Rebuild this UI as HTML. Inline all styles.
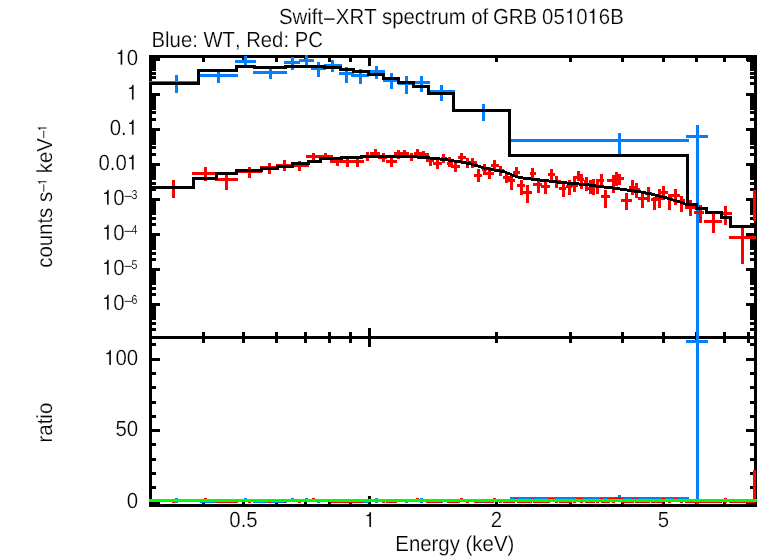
<!DOCTYPE html>
<html><head><meta charset="utf-8"><title>Swift-XRT spectrum of GRB 051016B</title>
<style>html,body{margin:0;padding:0;background:#fff;}body{width:758px;height:556px;overflow:hidden;font-family:"Liberation Sans",sans-serif;}svg{display:block;}text{font-family:"Liberation Sans",sans-serif;fill:#000;white-space:pre;}</style></head><body>
<svg width="758" height="556" viewBox="0 0 758 556" shape-rendering="crispEdges">
<rect width="758" height="556" fill="#fff"/>
<g id="frame">
<rect x="149" y="55" width="608" height="3" fill="#000"/>
<rect x="149" y="336" width="608" height="3" fill="#000"/>
<rect x="149" y="504" width="608" height="3" fill="#000"/>
<rect x="149" y="55" width="3" height="452" fill="#000"/>
<rect x="754" y="55" width="3" height="452" fill="#000"/>
<rect x="368" y="58" width="3" height="8" fill="#000"/>
<rect x="368" y="328" width="3" height="19" fill="#000"/>
<rect x="368" y="496" width="3" height="8" fill="#000"/>
<rect x="202" y="58" width="3" height="4" fill="#000"/>
<rect x="202" y="332" width="3" height="11" fill="#000"/>
<rect x="202" y="500" width="3" height="4" fill="#000"/>
<rect x="242" y="58" width="3" height="4" fill="#000"/>
<rect x="242" y="332" width="3" height="11" fill="#000"/>
<rect x="242" y="500" width="3" height="4" fill="#000"/>
<rect x="275" y="58" width="3" height="4" fill="#000"/>
<rect x="275" y="332" width="3" height="11" fill="#000"/>
<rect x="275" y="500" width="3" height="4" fill="#000"/>
<rect x="304" y="58" width="3" height="4" fill="#000"/>
<rect x="304" y="332" width="3" height="11" fill="#000"/>
<rect x="304" y="500" width="3" height="4" fill="#000"/>
<rect x="328" y="58" width="3" height="4" fill="#000"/>
<rect x="328" y="332" width="3" height="11" fill="#000"/>
<rect x="328" y="500" width="3" height="4" fill="#000"/>
<rect x="349" y="58" width="3" height="4" fill="#000"/>
<rect x="349" y="332" width="3" height="11" fill="#000"/>
<rect x="349" y="500" width="3" height="4" fill="#000"/>
<rect x="495" y="58" width="3" height="4" fill="#000"/>
<rect x="495" y="332" width="3" height="11" fill="#000"/>
<rect x="495" y="500" width="3" height="4" fill="#000"/>
<rect x="569" y="58" width="3" height="4" fill="#000"/>
<rect x="569" y="332" width="3" height="11" fill="#000"/>
<rect x="569" y="500" width="3" height="4" fill="#000"/>
<rect x="621" y="58" width="3" height="4" fill="#000"/>
<rect x="621" y="332" width="3" height="11" fill="#000"/>
<rect x="621" y="500" width="3" height="4" fill="#000"/>
<rect x="662" y="58" width="3" height="4" fill="#000"/>
<rect x="662" y="332" width="3" height="11" fill="#000"/>
<rect x="662" y="500" width="3" height="4" fill="#000"/>
<rect x="695" y="58" width="3" height="4" fill="#000"/>
<rect x="695" y="332" width="3" height="11" fill="#000"/>
<rect x="695" y="500" width="3" height="4" fill="#000"/>
<rect x="723" y="58" width="3" height="4" fill="#000"/>
<rect x="723" y="332" width="3" height="11" fill="#000"/>
<rect x="723" y="500" width="3" height="4" fill="#000"/>
<rect x="747" y="58" width="3" height="4" fill="#000"/>
<rect x="747" y="332" width="3" height="11" fill="#000"/>
<rect x="747" y="500" width="3" height="4" fill="#000"/>
<rect x="152" y="328" width="4" height="3" fill="#000"/>
<rect x="750" y="328" width="4" height="3" fill="#000"/>
<rect x="152" y="322" width="4" height="3" fill="#000"/>
<rect x="750" y="322" width="4" height="3" fill="#000"/>
<rect x="152" y="317" width="4" height="3" fill="#000"/>
<rect x="750" y="317" width="4" height="3" fill="#000"/>
<rect x="152" y="314" width="4" height="3" fill="#000"/>
<rect x="750" y="314" width="4" height="3" fill="#000"/>
<rect x="152" y="311" width="4" height="3" fill="#000"/>
<rect x="750" y="311" width="4" height="3" fill="#000"/>
<rect x="152" y="309" width="4" height="3" fill="#000"/>
<rect x="750" y="309" width="4" height="3" fill="#000"/>
<rect x="152" y="307" width="4" height="3" fill="#000"/>
<rect x="750" y="307" width="4" height="3" fill="#000"/>
<rect x="152" y="305" width="4" height="3" fill="#000"/>
<rect x="750" y="305" width="4" height="3" fill="#000"/>
<rect x="152" y="303" width="8" height="3" fill="#000"/>
<rect x="746" y="303" width="8" height="3" fill="#000"/>
<rect x="152" y="293" width="4" height="3" fill="#000"/>
<rect x="750" y="293" width="4" height="3" fill="#000"/>
<rect x="152" y="287" width="4" height="3" fill="#000"/>
<rect x="750" y="287" width="4" height="3" fill="#000"/>
<rect x="152" y="282" width="4" height="3" fill="#000"/>
<rect x="750" y="282" width="4" height="3" fill="#000"/>
<rect x="152" y="279" width="4" height="3" fill="#000"/>
<rect x="750" y="279" width="4" height="3" fill="#000"/>
<rect x="152" y="276" width="4" height="3" fill="#000"/>
<rect x="750" y="276" width="4" height="3" fill="#000"/>
<rect x="152" y="274" width="4" height="3" fill="#000"/>
<rect x="750" y="274" width="4" height="3" fill="#000"/>
<rect x="152" y="272" width="4" height="3" fill="#000"/>
<rect x="750" y="272" width="4" height="3" fill="#000"/>
<rect x="152" y="270" width="4" height="3" fill="#000"/>
<rect x="750" y="270" width="4" height="3" fill="#000"/>
<rect x="152" y="268" width="8" height="3" fill="#000"/>
<rect x="746" y="268" width="8" height="3" fill="#000"/>
<rect x="152" y="258" width="4" height="3" fill="#000"/>
<rect x="750" y="258" width="4" height="3" fill="#000"/>
<rect x="152" y="252" width="4" height="3" fill="#000"/>
<rect x="750" y="252" width="4" height="3" fill="#000"/>
<rect x="152" y="247" width="4" height="3" fill="#000"/>
<rect x="750" y="247" width="4" height="3" fill="#000"/>
<rect x="152" y="244" width="4" height="3" fill="#000"/>
<rect x="750" y="244" width="4" height="3" fill="#000"/>
<rect x="152" y="241" width="4" height="3" fill="#000"/>
<rect x="750" y="241" width="4" height="3" fill="#000"/>
<rect x="152" y="239" width="4" height="3" fill="#000"/>
<rect x="750" y="239" width="4" height="3" fill="#000"/>
<rect x="152" y="237" width="4" height="3" fill="#000"/>
<rect x="750" y="237" width="4" height="3" fill="#000"/>
<rect x="152" y="235" width="4" height="3" fill="#000"/>
<rect x="750" y="235" width="4" height="3" fill="#000"/>
<rect x="152" y="233" width="8" height="3" fill="#000"/>
<rect x="746" y="233" width="8" height="3" fill="#000"/>
<rect x="152" y="223" width="4" height="3" fill="#000"/>
<rect x="750" y="223" width="4" height="3" fill="#000"/>
<rect x="152" y="217" width="4" height="3" fill="#000"/>
<rect x="750" y="217" width="4" height="3" fill="#000"/>
<rect x="152" y="212" width="4" height="3" fill="#000"/>
<rect x="750" y="212" width="4" height="3" fill="#000"/>
<rect x="152" y="209" width="4" height="3" fill="#000"/>
<rect x="750" y="209" width="4" height="3" fill="#000"/>
<rect x="152" y="206" width="4" height="3" fill="#000"/>
<rect x="750" y="206" width="4" height="3" fill="#000"/>
<rect x="152" y="204" width="4" height="3" fill="#000"/>
<rect x="750" y="204" width="4" height="3" fill="#000"/>
<rect x="152" y="202" width="4" height="3" fill="#000"/>
<rect x="750" y="202" width="4" height="3" fill="#000"/>
<rect x="152" y="200" width="4" height="3" fill="#000"/>
<rect x="750" y="200" width="4" height="3" fill="#000"/>
<rect x="152" y="198" width="8" height="3" fill="#000"/>
<rect x="746" y="198" width="8" height="3" fill="#000"/>
<rect x="152" y="188" width="4" height="3" fill="#000"/>
<rect x="750" y="188" width="4" height="3" fill="#000"/>
<rect x="152" y="182" width="4" height="3" fill="#000"/>
<rect x="750" y="182" width="4" height="3" fill="#000"/>
<rect x="152" y="177" width="4" height="3" fill="#000"/>
<rect x="750" y="177" width="4" height="3" fill="#000"/>
<rect x="152" y="174" width="4" height="3" fill="#000"/>
<rect x="750" y="174" width="4" height="3" fill="#000"/>
<rect x="152" y="171" width="4" height="3" fill="#000"/>
<rect x="750" y="171" width="4" height="3" fill="#000"/>
<rect x="152" y="169" width="4" height="3" fill="#000"/>
<rect x="750" y="169" width="4" height="3" fill="#000"/>
<rect x="152" y="167" width="4" height="3" fill="#000"/>
<rect x="750" y="167" width="4" height="3" fill="#000"/>
<rect x="152" y="165" width="4" height="3" fill="#000"/>
<rect x="750" y="165" width="4" height="3" fill="#000"/>
<rect x="152" y="163" width="8" height="3" fill="#000"/>
<rect x="746" y="163" width="8" height="3" fill="#000"/>
<rect x="152" y="153" width="4" height="3" fill="#000"/>
<rect x="750" y="153" width="4" height="3" fill="#000"/>
<rect x="152" y="146" width="4" height="3" fill="#000"/>
<rect x="750" y="146" width="4" height="3" fill="#000"/>
<rect x="152" y="142" width="4" height="3" fill="#000"/>
<rect x="750" y="142" width="4" height="3" fill="#000"/>
<rect x="152" y="139" width="4" height="3" fill="#000"/>
<rect x="750" y="139" width="4" height="3" fill="#000"/>
<rect x="152" y="136" width="4" height="3" fill="#000"/>
<rect x="750" y="136" width="4" height="3" fill="#000"/>
<rect x="152" y="134" width="4" height="3" fill="#000"/>
<rect x="750" y="134" width="4" height="3" fill="#000"/>
<rect x="152" y="131" width="4" height="3" fill="#000"/>
<rect x="750" y="131" width="4" height="3" fill="#000"/>
<rect x="152" y="130" width="4" height="3" fill="#000"/>
<rect x="750" y="130" width="4" height="3" fill="#000"/>
<rect x="152" y="128" width="8" height="3" fill="#000"/>
<rect x="746" y="128" width="8" height="3" fill="#000"/>
<rect x="152" y="118" width="4" height="3" fill="#000"/>
<rect x="750" y="118" width="4" height="3" fill="#000"/>
<rect x="152" y="111" width="4" height="3" fill="#000"/>
<rect x="750" y="111" width="4" height="3" fill="#000"/>
<rect x="152" y="107" width="4" height="3" fill="#000"/>
<rect x="750" y="107" width="4" height="3" fill="#000"/>
<rect x="152" y="104" width="4" height="3" fill="#000"/>
<rect x="750" y="104" width="4" height="3" fill="#000"/>
<rect x="152" y="101" width="4" height="3" fill="#000"/>
<rect x="750" y="101" width="4" height="3" fill="#000"/>
<rect x="152" y="98" width="4" height="3" fill="#000"/>
<rect x="750" y="98" width="4" height="3" fill="#000"/>
<rect x="152" y="96" width="4" height="3" fill="#000"/>
<rect x="750" y="96" width="4" height="3" fill="#000"/>
<rect x="152" y="95" width="4" height="3" fill="#000"/>
<rect x="750" y="95" width="4" height="3" fill="#000"/>
<rect x="152" y="93" width="8" height="3" fill="#000"/>
<rect x="746" y="93" width="8" height="3" fill="#000"/>
<rect x="152" y="82" width="4" height="3" fill="#000"/>
<rect x="750" y="82" width="4" height="3" fill="#000"/>
<rect x="152" y="76" width="4" height="3" fill="#000"/>
<rect x="750" y="76" width="4" height="3" fill="#000"/>
<rect x="152" y="72" width="4" height="3" fill="#000"/>
<rect x="750" y="72" width="4" height="3" fill="#000"/>
<rect x="152" y="68" width="4" height="3" fill="#000"/>
<rect x="750" y="68" width="4" height="3" fill="#000"/>
<rect x="152" y="66" width="4" height="3" fill="#000"/>
<rect x="750" y="66" width="4" height="3" fill="#000"/>
<rect x="152" y="63" width="4" height="3" fill="#000"/>
<rect x="750" y="63" width="4" height="3" fill="#000"/>
<rect x="152" y="61" width="4" height="3" fill="#000"/>
<rect x="750" y="61" width="4" height="3" fill="#000"/>
<rect x="152" y="60" width="4" height="3" fill="#000"/>
<rect x="750" y="60" width="4" height="3" fill="#000"/>
<rect x="152" y="58" width="8" height="3" fill="#000"/>
<rect x="746" y="58" width="8" height="3" fill="#000"/>
<rect x="152" y="501" width="8" height="3" fill="#000"/>
<rect x="746" y="501" width="8" height="3" fill="#000"/>
<rect x="152" y="486" width="4" height="3" fill="#000"/>
<rect x="750" y="486" width="4" height="3" fill="#000"/>
<rect x="152" y="472" width="4" height="3" fill="#000"/>
<rect x="750" y="472" width="4" height="3" fill="#000"/>
<rect x="152" y="458" width="4" height="3" fill="#000"/>
<rect x="750" y="458" width="4" height="3" fill="#000"/>
<rect x="152" y="443" width="4" height="3" fill="#000"/>
<rect x="750" y="443" width="4" height="3" fill="#000"/>
<rect x="152" y="429" width="8" height="3" fill="#000"/>
<rect x="746" y="429" width="8" height="3" fill="#000"/>
<rect x="152" y="415" width="4" height="3" fill="#000"/>
<rect x="750" y="415" width="4" height="3" fill="#000"/>
<rect x="152" y="401" width="4" height="3" fill="#000"/>
<rect x="750" y="401" width="4" height="3" fill="#000"/>
<rect x="152" y="386" width="4" height="3" fill="#000"/>
<rect x="750" y="386" width="4" height="3" fill="#000"/>
<rect x="152" y="372" width="4" height="3" fill="#000"/>
<rect x="750" y="372" width="4" height="3" fill="#000"/>
<rect x="152" y="358" width="8" height="3" fill="#000"/>
<rect x="746" y="358" width="8" height="3" fill="#000"/>
<rect x="152" y="343" width="4" height="3" fill="#000"/>
<rect x="750" y="343" width="4" height="3" fill="#000"/>
</g>
<g id="ratio-data">
<rect x="149" y="499" width="49" height="3" fill="#0080ff"/>
<rect x="175" y="498" width="3" height="5" fill="#0080ff"/>
<rect x="200" y="500" width="38" height="3" fill="#0080ff"/>
<rect x="217" y="500" width="3" height="3" fill="#0080ff"/>
<rect x="235" y="499" width="21" height="3" fill="#0080ff"/>
<rect x="244" y="498" width="3" height="4" fill="#0080ff"/>
<rect x="253" y="500" width="34" height="3" fill="#0080ff"/>
<rect x="269" y="499" width="3" height="4" fill="#0080ff"/>
<rect x="284" y="499" width="16" height="3" fill="#0080ff"/>
<rect x="291" y="498" width="3" height="4" fill="#0080ff"/>
<rect x="299" y="499" width="15" height="3" fill="#0080ff"/>
<rect x="305" y="498" width="3" height="4" fill="#0080ff"/>
<rect x="311" y="499" width="15" height="3" fill="#0080ff"/>
<rect x="317" y="499" width="3" height="4" fill="#0080ff"/>
<rect x="324" y="499" width="18" height="3" fill="#0080ff"/>
<rect x="331" y="499" width="3" height="4" fill="#0080ff"/>
<rect x="339" y="500" width="15" height="3" fill="#0080ff"/>
<rect x="345" y="499" width="3" height="4" fill="#0080ff"/>
<rect x="351" y="500" width="18" height="3" fill="#0080ff"/>
<rect x="359" y="499" width="3" height="4" fill="#0080ff"/>
<rect x="370" y="499" width="15" height="3" fill="#0080ff"/>
<rect x="375" y="498" width="3" height="5" fill="#0080ff"/>
<rect x="383" y="499" width="17" height="3" fill="#0080ff"/>
<rect x="390" y="499" width="3" height="4" fill="#0080ff"/>
<rect x="398" y="499" width="16" height="3" fill="#0080ff"/>
<rect x="405" y="499" width="3" height="4" fill="#0080ff"/>
<rect x="414" y="499" width="16" height="3" fill="#0080ff"/>
<rect x="420" y="498" width="3" height="5" fill="#0080ff"/>
<rect x="430" y="499" width="25" height="3" fill="#0080ff"/>
<rect x="440" y="499" width="3" height="4" fill="#0080ff"/>
<rect x="454" y="499" width="56" height="3" fill="#0080ff"/>
<rect x="482" y="499" width="3" height="4" fill="#0080ff"/>
<rect x="510" y="497" width="179" height="3" fill="#0080ff"/>
<rect x="618" y="495" width="3" height="7" fill="#0080ff"/>
</g>
<g id="wt-data">
<rect x="686" y="135" width="22" height="3" fill="#0080ff"/>
<rect x="696" y="125" width="3" height="379" fill="#0080ff"/>
<rect x="686" y="340" width="22" height="3" fill="#0080ff"/>
<rect x="149" y="81" width="49" height="3" fill="#0080ff"/>
<rect x="175" y="75" width="3" height="18" fill="#0080ff"/>
<rect x="200" y="74" width="38" height="3" fill="#0080ff"/>
<rect x="217" y="72" width="3" height="11" fill="#0080ff"/>
<rect x="235" y="60" width="21" height="3" fill="#0080ff"/>
<rect x="244" y="56" width="3" height="9" fill="#0080ff"/>
<rect x="253" y="71" width="34" height="3" fill="#0080ff"/>
<rect x="269" y="69" width="3" height="10" fill="#0080ff"/>
<rect x="284" y="61" width="16" height="3" fill="#0080ff"/>
<rect x="291" y="57" width="3" height="13" fill="#0080ff"/>
<rect x="299" y="59" width="15" height="3" fill="#0080ff"/>
<rect x="305" y="55" width="3" height="10" fill="#0080ff"/>
<rect x="311" y="67" width="15" height="3" fill="#0080ff"/>
<rect x="317" y="62" width="3" height="15" fill="#0080ff"/>
<rect x="324" y="64" width="18" height="3" fill="#0080ff"/>
<rect x="331" y="60" width="3" height="12" fill="#0080ff"/>
<rect x="339" y="72" width="15" height="3" fill="#0080ff"/>
<rect x="345" y="67" width="3" height="16" fill="#0080ff"/>
<rect x="351" y="74" width="18" height="3" fill="#0080ff"/>
<rect x="359" y="69" width="3" height="15" fill="#0080ff"/>
<rect x="370" y="70" width="15" height="3" fill="#0080ff"/>
<rect x="375" y="66" width="3" height="13" fill="#0080ff"/>
<rect x="383" y="79" width="17" height="3" fill="#0080ff"/>
<rect x="390" y="73" width="3" height="16" fill="#0080ff"/>
<rect x="398" y="82" width="16" height="3" fill="#0080ff"/>
<rect x="405" y="76" width="3" height="18" fill="#0080ff"/>
<rect x="414" y="81" width="16" height="3" fill="#0080ff"/>
<rect x="420" y="76" width="3" height="16" fill="#0080ff"/>
<rect x="430" y="90" width="25" height="3" fill="#0080ff"/>
<rect x="440" y="85" width="3" height="16" fill="#0080ff"/>
<rect x="454" y="109" width="56" height="3" fill="#0080ff"/>
<rect x="482" y="104" width="3" height="17" fill="#0080ff"/>
<rect x="510" y="139" width="179" height="3" fill="#0080ff"/>
<rect x="618" y="133" width="3" height="23" fill="#0080ff"/>
</g>
<g id="pc-data">
<rect x="149" y="499" width="45" height="3" fill="#ff0000"/>
<rect x="172" y="499" width="3" height="4" fill="#ff0000"/>
<rect x="192" y="499" width="23" height="3" fill="#ff0000"/>
<rect x="204" y="498" width="3" height="4" fill="#ff0000"/>
<rect x="215" y="500" width="23" height="3" fill="#ff0000"/>
<rect x="225" y="499" width="3" height="4" fill="#ff0000"/>
<rect x="236" y="499" width="26" height="3" fill="#ff0000"/>
<rect x="248" y="499" width="3" height="4" fill="#ff0000"/>
<rect x="260" y="499" width="18" height="3" fill="#ff0000"/>
<rect x="268" y="499" width="3" height="4" fill="#ff0000"/>
<rect x="276" y="499" width="17" height="3" fill="#ff0000"/>
<rect x="283" y="499" width="3" height="4" fill="#ff0000"/>
<rect x="293" y="499" width="16" height="3" fill="#ff0000"/>
<rect x="298" y="499" width="3" height="4" fill="#ff0000"/>
<rect x="306" y="499" width="15" height="3" fill="#ff0000"/>
<rect x="312" y="498" width="3" height="4" fill="#ff0000"/>
<rect x="321" y="499" width="12" height="3" fill="#ff0000"/>
<rect x="324" y="499" width="3" height="3" fill="#ff0000"/>
<rect x="330" y="500" width="13" height="3" fill="#ff0000"/>
<rect x="336" y="499" width="3" height="4" fill="#ff0000"/>
<rect x="343" y="500" width="11" height="3" fill="#ff0000"/>
<rect x="346" y="499" width="3" height="4" fill="#ff0000"/>
<rect x="354" y="500" width="10" height="3" fill="#ff0000"/>
<rect x="356" y="499" width="3" height="4" fill="#ff0000"/>
<rect x="364" y="499" width="6" height="3" fill="#ff0000"/>
<rect x="366" y="499" width="3" height="3" fill="#ff0000"/>
<rect x="370" y="499" width="10" height="3" fill="#ff0000"/>
<rect x="374" y="499" width="3" height="3" fill="#ff0000"/>
<rect x="378" y="499" width="9" height="3" fill="#ff0000"/>
<rect x="382" y="499" width="3" height="4" fill="#ff0000"/>
<rect x="386" y="500" width="11" height="3" fill="#ff0000"/>
<rect x="390" y="499" width="3" height="4" fill="#ff0000"/>
<rect x="394" y="499" width="8" height="3" fill="#ff0000"/>
<rect x="397" y="499" width="3" height="3" fill="#ff0000"/>
<rect x="400" y="499" width="9" height="3" fill="#ff0000"/>
<rect x="403" y="499" width="3" height="3" fill="#ff0000"/>
<rect x="408" y="499" width="7" height="3" fill="#ff0000"/>
<rect x="410" y="499" width="3" height="3" fill="#ff0000"/>
<rect x="414" y="499" width="8" height="3" fill="#ff0000"/>
<rect x="416" y="498" width="3" height="4" fill="#ff0000"/>
<rect x="419" y="499" width="10" height="3" fill="#ff0000"/>
<rect x="422" y="499" width="3" height="3" fill="#ff0000"/>
<rect x="426" y="500" width="8" height="3" fill="#ff0000"/>
<rect x="429" y="499" width="3" height="4" fill="#ff0000"/>
<rect x="433" y="500" width="9" height="3" fill="#ff0000"/>
<rect x="436" y="499" width="3" height="4" fill="#ff0000"/>
<rect x="441" y="499" width="6" height="3" fill="#ff0000"/>
<rect x="442" y="499" width="3" height="3" fill="#ff0000"/>
<rect x="447" y="500" width="6" height="3" fill="#ff0000"/>
<rect x="448" y="499" width="3" height="4" fill="#ff0000"/>
<rect x="451" y="500" width="9" height="3" fill="#ff0000"/>
<rect x="454" y="500" width="3" height="3" fill="#ff0000"/>
<rect x="458" y="499" width="8" height="3" fill="#ff0000"/>
<rect x="460" y="498" width="3" height="4" fill="#ff0000"/>
<rect x="464" y="499" width="6" height="3" fill="#ff0000"/>
<rect x="466" y="499" width="3" height="4" fill="#ff0000"/>
<rect x="470" y="499" width="7" height="3" fill="#ff0000"/>
<rect x="471" y="499" width="3" height="3" fill="#ff0000"/>
<rect x="474" y="500" width="8" height="3" fill="#ff0000"/>
<rect x="477" y="500" width="3" height="3" fill="#ff0000"/>
<rect x="482" y="499" width="5" height="3" fill="#ff0000"/>
<rect x="483" y="499" width="3" height="4" fill="#ff0000"/>
<rect x="486" y="500" width="8" height="3" fill="#ff0000"/>
<rect x="488" y="499" width="3" height="4" fill="#ff0000"/>
<rect x="491" y="499" width="8" height="3" fill="#ff0000"/>
<rect x="493" y="498" width="3" height="4" fill="#ff0000"/>
<rect x="497" y="499" width="7" height="3" fill="#ff0000"/>
<rect x="499" y="499" width="3" height="4" fill="#ff0000"/>
<rect x="503" y="500" width="7" height="3" fill="#ff0000"/>
<rect x="505" y="499" width="3" height="4" fill="#ff0000"/>
<rect x="508" y="500" width="7" height="3" fill="#ff0000"/>
<rect x="510" y="500" width="3" height="3" fill="#ff0000"/>
<rect x="513" y="499" width="7" height="3" fill="#ff0000"/>
<rect x="515" y="498" width="3" height="4" fill="#ff0000"/>
<rect x="517" y="500" width="8" height="3" fill="#ff0000"/>
<rect x="520" y="500" width="3" height="3" fill="#ff0000"/>
<rect x="523" y="500" width="9" height="3" fill="#ff0000"/>
<rect x="526" y="500" width="3" height="3" fill="#ff0000"/>
<rect x="530" y="499" width="6" height="3" fill="#ff0000"/>
<rect x="531" y="498" width="3" height="4" fill="#ff0000"/>
<rect x="533" y="500" width="9" height="3" fill="#ff0000"/>
<rect x="537" y="499" width="3" height="4" fill="#ff0000"/>
<rect x="541" y="500" width="9" height="3" fill="#ff0000"/>
<rect x="544" y="499" width="3" height="4" fill="#ff0000"/>
<rect x="548" y="498" width="7" height="3" fill="#ff0000"/>
<rect x="550" y="498" width="3" height="4" fill="#ff0000"/>
<rect x="553" y="499" width="8" height="3" fill="#ff0000"/>
<rect x="555" y="499" width="3" height="4" fill="#ff0000"/>
<rect x="559" y="500" width="7" height="3" fill="#ff0000"/>
<rect x="562" y="500" width="3" height="3" fill="#ff0000"/>
<rect x="566" y="500" width="6" height="3" fill="#ff0000"/>
<rect x="568" y="499" width="3" height="4" fill="#ff0000"/>
<rect x="572" y="499" width="6" height="3" fill="#ff0000"/>
<rect x="573" y="499" width="3" height="4" fill="#ff0000"/>
<rect x="576" y="498" width="6" height="3" fill="#ff0000"/>
<rect x="577" y="498" width="3" height="4" fill="#ff0000"/>
<rect x="579" y="499" width="5" height="3" fill="#ff0000"/>
<rect x="580" y="498" width="3" height="5" fill="#ff0000"/>
<rect x="584" y="499" width="4" height="3" fill="#ff0000"/>
<rect x="585" y="499" width="3" height="4" fill="#ff0000"/>
<rect x="588" y="500" width="4" height="3" fill="#ff0000"/>
<rect x="589" y="499" width="3" height="4" fill="#ff0000"/>
<rect x="592" y="499" width="4" height="3" fill="#ff0000"/>
<rect x="592" y="499" width="3" height="4" fill="#ff0000"/>
<rect x="596" y="499" width="4" height="3" fill="#ff0000"/>
<rect x="596" y="499" width="3" height="4" fill="#ff0000"/>
<rect x="597" y="499" width="7" height="3" fill="#ff0000"/>
<rect x="600" y="498" width="3" height="4" fill="#ff0000"/>
<rect x="601" y="500" width="9" height="3" fill="#ff0000"/>
<rect x="604" y="500" width="3" height="3" fill="#ff0000"/>
<rect x="607" y="498" width="10" height="3" fill="#ff0000"/>
<rect x="612" y="498" width="3" height="5" fill="#ff0000"/>
<rect x="614" y="498" width="5" height="3" fill="#ff0000"/>
<rect x="615" y="497" width="3" height="5" fill="#ff0000"/>
<rect x="617" y="498" width="7" height="3" fill="#ff0000"/>
<rect x="618" y="497" width="3" height="5" fill="#ff0000"/>
<rect x="621" y="500" width="11" height="3" fill="#ff0000"/>
<rect x="625" y="500" width="3" height="3" fill="#ff0000"/>
<rect x="629" y="499" width="7" height="3" fill="#ff0000"/>
<rect x="631" y="498" width="3" height="5" fill="#ff0000"/>
<rect x="633" y="499" width="7" height="3" fill="#ff0000"/>
<rect x="635" y="498" width="3" height="5" fill="#ff0000"/>
<rect x="638" y="500" width="9" height="3" fill="#ff0000"/>
<rect x="641" y="500" width="3" height="3" fill="#ff0000"/>
<rect x="645" y="499" width="7" height="3" fill="#ff0000"/>
<rect x="647" y="499" width="3" height="4" fill="#ff0000"/>
<rect x="651" y="500" width="7" height="3" fill="#ff0000"/>
<rect x="653" y="500" width="3" height="3" fill="#ff0000"/>
<rect x="656" y="500" width="7" height="3" fill="#ff0000"/>
<rect x="658" y="499" width="3" height="4" fill="#ff0000"/>
<rect x="658" y="499" width="10" height="3" fill="#ff0000"/>
<rect x="662" y="498" width="3" height="4" fill="#ff0000"/>
<rect x="668" y="499" width="4" height="3" fill="#ff0000"/>
<rect x="668" y="499" width="3" height="4" fill="#ff0000"/>
<rect x="668" y="499" width="12" height="3" fill="#ff0000"/>
<rect x="674" y="498" width="3" height="4" fill="#ff0000"/>
<rect x="680" y="499" width="5" height="3" fill="#ff0000"/>
<rect x="680" y="499" width="3" height="4" fill="#ff0000"/>
<rect x="685" y="500" width="11" height="3" fill="#ff0000"/>
<rect x="689" y="499" width="3" height="4" fill="#ff0000"/>
<rect x="694" y="500" width="10" height="3" fill="#ff0000"/>
<rect x="699" y="499" width="3" height="4" fill="#ff0000"/>
<rect x="704" y="500" width="18" height="3" fill="#ff0000"/>
<rect x="712" y="499" width="3" height="4" fill="#ff0000"/>
<rect x="722" y="499" width="10" height="3" fill="#ff0000"/>
<rect x="724" y="498" width="3" height="5" fill="#ff0000"/>
<rect x="729" y="500" width="27" height="3" fill="#ff0000"/>
<rect x="741" y="500" width="3" height="3" fill="#ff0000"/>
<rect x="753" y="190" width="3" height="31" fill="#ff0000"/>
<rect x="753" y="470" width="3" height="33" fill="#ff0000"/>
<rect x="149" y="186" width="45" height="3" fill="#ff0000"/>
<rect x="172" y="180" width="3" height="18" fill="#ff0000"/>
<rect x="192" y="172" width="23" height="3" fill="#ff0000"/>
<rect x="204" y="167" width="3" height="14" fill="#ff0000"/>
<rect x="215" y="178" width="23" height="3" fill="#ff0000"/>
<rect x="225" y="174" width="3" height="16" fill="#ff0000"/>
<rect x="236" y="170" width="26" height="3" fill="#ff0000"/>
<rect x="248" y="167" width="3" height="11" fill="#ff0000"/>
<rect x="260" y="166" width="18" height="3" fill="#ff0000"/>
<rect x="268" y="163" width="3" height="11" fill="#ff0000"/>
<rect x="276" y="164" width="17" height="3" fill="#ff0000"/>
<rect x="283" y="160" width="3" height="11" fill="#ff0000"/>
<rect x="293" y="164" width="16" height="3" fill="#ff0000"/>
<rect x="298" y="161" width="3" height="10" fill="#ff0000"/>
<rect x="306" y="155" width="15" height="3" fill="#ff0000"/>
<rect x="312" y="153" width="3" height="9" fill="#ff0000"/>
<rect x="321" y="155" width="12" height="3" fill="#ff0000"/>
<rect x="324" y="153" width="3" height="7" fill="#ff0000"/>
<rect x="330" y="160" width="13" height="3" fill="#ff0000"/>
<rect x="336" y="157" width="3" height="9" fill="#ff0000"/>
<rect x="343" y="160" width="11" height="3" fill="#ff0000"/>
<rect x="346" y="157" width="3" height="10" fill="#ff0000"/>
<rect x="354" y="160" width="10" height="3" fill="#ff0000"/>
<rect x="356" y="157" width="3" height="10" fill="#ff0000"/>
<rect x="364" y="155" width="6" height="3" fill="#ff0000"/>
<rect x="366" y="152" width="3" height="9" fill="#ff0000"/>
<rect x="370" y="152" width="10" height="3" fill="#ff0000"/>
<rect x="374" y="149" width="3" height="9" fill="#ff0000"/>
<rect x="378" y="156" width="9" height="3" fill="#ff0000"/>
<rect x="382" y="153" width="3" height="9" fill="#ff0000"/>
<rect x="386" y="160" width="11" height="3" fill="#ff0000"/>
<rect x="390" y="157" width="3" height="10" fill="#ff0000"/>
<rect x="394" y="152" width="8" height="3" fill="#ff0000"/>
<rect x="397" y="150" width="3" height="9" fill="#ff0000"/>
<rect x="400" y="152" width="9" height="3" fill="#ff0000"/>
<rect x="403" y="150" width="3" height="8" fill="#ff0000"/>
<rect x="408" y="155" width="7" height="3" fill="#ff0000"/>
<rect x="410" y="153" width="3" height="8" fill="#ff0000"/>
<rect x="414" y="152" width="8" height="3" fill="#ff0000"/>
<rect x="416" y="149" width="3" height="9" fill="#ff0000"/>
<rect x="419" y="153" width="10" height="3" fill="#ff0000"/>
<rect x="422" y="151" width="3" height="8" fill="#ff0000"/>
<rect x="426" y="159" width="8" height="3" fill="#ff0000"/>
<rect x="429" y="157" width="3" height="9" fill="#ff0000"/>
<rect x="433" y="162" width="9" height="3" fill="#ff0000"/>
<rect x="436" y="159" width="3" height="10" fill="#ff0000"/>
<rect x="441" y="157" width="6" height="3" fill="#ff0000"/>
<rect x="442" y="154" width="3" height="9" fill="#ff0000"/>
<rect x="447" y="162" width="6" height="3" fill="#ff0000"/>
<rect x="448" y="157" width="3" height="10" fill="#ff0000"/>
<rect x="451" y="165" width="9" height="3" fill="#ff0000"/>
<rect x="454" y="163" width="3" height="9" fill="#ff0000"/>
<rect x="458" y="156" width="8" height="3" fill="#ff0000"/>
<rect x="460" y="153" width="3" height="8" fill="#ff0000"/>
<rect x="464" y="161" width="6" height="3" fill="#ff0000"/>
<rect x="466" y="158" width="3" height="10" fill="#ff0000"/>
<rect x="470" y="161" width="7" height="3" fill="#ff0000"/>
<rect x="471" y="158" width="3" height="10" fill="#ff0000"/>
<rect x="474" y="174" width="8" height="3" fill="#ff0000"/>
<rect x="477" y="169" width="3" height="13" fill="#ff0000"/>
<rect x="482" y="168" width="5" height="3" fill="#ff0000"/>
<rect x="483" y="164" width="3" height="11" fill="#ff0000"/>
<rect x="486" y="172" width="8" height="3" fill="#ff0000"/>
<rect x="488" y="167" width="3" height="12" fill="#ff0000"/>
<rect x="491" y="164" width="8" height="3" fill="#ff0000"/>
<rect x="493" y="160" width="3" height="9" fill="#ff0000"/>
<rect x="497" y="169" width="7" height="3" fill="#ff0000"/>
<rect x="499" y="166" width="3" height="10" fill="#ff0000"/>
<rect x="503" y="176" width="7" height="3" fill="#ff0000"/>
<rect x="505" y="173" width="3" height="10" fill="#ff0000"/>
<rect x="508" y="179" width="7" height="3" fill="#ff0000"/>
<rect x="510" y="176" width="3" height="14" fill="#ff0000"/>
<rect x="513" y="171" width="7" height="3" fill="#ff0000"/>
<rect x="515" y="167" width="3" height="11" fill="#ff0000"/>
<rect x="517" y="184" width="8" height="3" fill="#ff0000"/>
<rect x="520" y="180" width="3" height="15" fill="#ff0000"/>
<rect x="523" y="191" width="9" height="3" fill="#ff0000"/>
<rect x="526" y="185" width="3" height="18" fill="#ff0000"/>
<rect x="530" y="172" width="6" height="3" fill="#ff0000"/>
<rect x="531" y="168" width="3" height="10" fill="#ff0000"/>
<rect x="533" y="183" width="9" height="3" fill="#ff0000"/>
<rect x="537" y="181" width="3" height="12" fill="#ff0000"/>
<rect x="541" y="185" width="9" height="3" fill="#ff0000"/>
<rect x="544" y="182" width="3" height="12" fill="#ff0000"/>
<rect x="548" y="173" width="7" height="3" fill="#ff0000"/>
<rect x="550" y="169" width="3" height="11" fill="#ff0000"/>
<rect x="553" y="180" width="8" height="3" fill="#ff0000"/>
<rect x="555" y="176" width="3" height="12" fill="#ff0000"/>
<rect x="559" y="187" width="7" height="3" fill="#ff0000"/>
<rect x="562" y="184" width="3" height="13" fill="#ff0000"/>
<rect x="566" y="185" width="6" height="3" fill="#ff0000"/>
<rect x="568" y="180" width="3" height="15" fill="#ff0000"/>
<rect x="572" y="184" width="6" height="3" fill="#ff0000"/>
<rect x="573" y="176" width="3" height="16" fill="#ff0000"/>
<rect x="576" y="176" width="6" height="3" fill="#ff0000"/>
<rect x="577" y="171" width="3" height="10" fill="#ff0000"/>
<rect x="579" y="178" width="5" height="3" fill="#ff0000"/>
<rect x="580" y="174" width="3" height="15" fill="#ff0000"/>
<rect x="584" y="180" width="4" height="3" fill="#ff0000"/>
<rect x="585" y="177" width="3" height="14" fill="#ff0000"/>
<rect x="588" y="187" width="4" height="3" fill="#ff0000"/>
<rect x="589" y="180" width="3" height="14" fill="#ff0000"/>
<rect x="592" y="185" width="4" height="3" fill="#ff0000"/>
<rect x="592" y="179" width="3" height="16" fill="#ff0000"/>
<rect x="596" y="185" width="4" height="3" fill="#ff0000"/>
<rect x="596" y="179" width="3" height="15" fill="#ff0000"/>
<rect x="597" y="179" width="7" height="3" fill="#ff0000"/>
<rect x="600" y="174" width="3" height="11" fill="#ff0000"/>
<rect x="601" y="195" width="9" height="3" fill="#ff0000"/>
<rect x="604" y="190" width="3" height="18" fill="#ff0000"/>
<rect x="607" y="179" width="10" height="3" fill="#ff0000"/>
<rect x="612" y="175" width="3" height="18" fill="#ff0000"/>
<rect x="614" y="177" width="5" height="3" fill="#ff0000"/>
<rect x="615" y="172" width="3" height="14" fill="#ff0000"/>
<rect x="617" y="177" width="7" height="3" fill="#ff0000"/>
<rect x="618" y="174" width="3" height="11" fill="#ff0000"/>
<rect x="621" y="199" width="11" height="3" fill="#ff0000"/>
<rect x="625" y="193" width="3" height="17" fill="#ff0000"/>
<rect x="629" y="186" width="7" height="3" fill="#ff0000"/>
<rect x="631" y="180" width="3" height="15" fill="#ff0000"/>
<rect x="633" y="188" width="7" height="3" fill="#ff0000"/>
<rect x="635" y="183" width="3" height="15" fill="#ff0000"/>
<rect x="638" y="197" width="9" height="3" fill="#ff0000"/>
<rect x="641" y="194" width="3" height="14" fill="#ff0000"/>
<rect x="645" y="192" width="7" height="3" fill="#ff0000"/>
<rect x="647" y="187" width="3" height="15" fill="#ff0000"/>
<rect x="651" y="198" width="7" height="3" fill="#ff0000"/>
<rect x="653" y="197" width="3" height="13" fill="#ff0000"/>
<rect x="656" y="197" width="7" height="3" fill="#ff0000"/>
<rect x="658" y="189" width="3" height="19" fill="#ff0000"/>
<rect x="658" y="191" width="10" height="3" fill="#ff0000"/>
<rect x="662" y="186" width="3" height="14" fill="#ff0000"/>
<rect x="668" y="196" width="4" height="3" fill="#ff0000"/>
<rect x="668" y="194" width="3" height="16" fill="#ff0000"/>
<rect x="668" y="194" width="12" height="3" fill="#ff0000"/>
<rect x="674" y="189" width="3" height="16" fill="#ff0000"/>
<rect x="680" y="199" width="5" height="3" fill="#ff0000"/>
<rect x="680" y="196" width="3" height="16" fill="#ff0000"/>
<rect x="685" y="206" width="11" height="3" fill="#ff0000"/>
<rect x="689" y="200" width="3" height="16" fill="#ff0000"/>
<rect x="694" y="211" width="10" height="3" fill="#ff0000"/>
<rect x="699" y="205" width="3" height="18" fill="#ff0000"/>
<rect x="704" y="220" width="18" height="3" fill="#ff0000"/>
<rect x="712" y="213" width="3" height="20" fill="#ff0000"/>
<rect x="722" y="212" width="10" height="3" fill="#ff0000"/>
<rect x="724" y="206" width="3" height="19" fill="#ff0000"/>
<rect x="729" y="236" width="27" height="3" fill="#ff0000"/>
<rect x="741" y="228" width="3" height="36" fill="#ff0000"/>
</g>
<g id="models">
<rect x="149" y="82" width="51" height="3" fill="#000"/>
<rect x="197" y="69" width="3" height="16" fill="#000"/>
<rect x="197" y="69" width="41" height="3" fill="#000"/>
<rect x="235" y="65" width="3" height="7" fill="#000"/>
<rect x="235" y="65" width="21" height="3" fill="#000"/>
<rect x="253" y="65" width="3" height="4" fill="#000"/>
<rect x="253" y="66" width="34" height="3" fill="#000"/>
<rect x="284" y="65" width="3" height="4" fill="#000"/>
<rect x="284" y="65" width="42" height="3" fill="#000"/>
<rect x="323" y="65" width="3" height="4" fill="#000"/>
<rect x="323" y="66" width="19" height="3" fill="#000"/>
<rect x="339" y="66" width="3" height="5" fill="#000"/>
<rect x="339" y="68" width="16" height="3" fill="#000"/>
<rect x="352" y="68" width="3" height="5" fill="#000"/>
<rect x="352" y="70" width="18" height="3" fill="#000"/>
<rect x="367" y="70" width="3" height="6" fill="#000"/>
<rect x="367" y="73" width="18" height="3" fill="#000"/>
<rect x="382" y="73" width="3" height="7" fill="#000"/>
<rect x="382" y="77" width="18" height="3" fill="#000"/>
<rect x="397" y="77" width="3" height="7" fill="#000"/>
<rect x="397" y="81" width="18" height="3" fill="#000"/>
<rect x="412" y="81" width="3" height="7" fill="#000"/>
<rect x="412" y="85" width="18" height="3" fill="#000"/>
<rect x="427" y="85" width="3" height="10" fill="#000"/>
<rect x="427" y="92" width="28" height="3" fill="#000"/>
<rect x="452" y="92" width="3" height="20" fill="#000"/>
<rect x="452" y="109" width="59" height="3" fill="#000"/>
<rect x="508" y="109" width="3" height="48" fill="#000"/>
<rect x="508" y="154" width="181" height="3" fill="#000"/>
<rect x="686" y="154" width="3" height="51" fill="#000"/>
<rect x="149" y="186" width="46" height="3" fill="#000"/>
<rect x="192" y="177" width="3" height="12" fill="#000"/>
<rect x="192" y="177" width="26" height="3" fill="#000"/>
<rect x="215" y="172" width="3" height="8" fill="#000"/>
<rect x="215" y="172" width="23" height="3" fill="#000"/>
<rect x="235" y="169" width="3" height="6" fill="#000"/>
<rect x="235" y="169" width="28" height="3" fill="#000"/>
<rect x="260" y="167" width="3" height="5" fill="#000"/>
<rect x="260" y="167" width="19" height="3" fill="#000"/>
<rect x="276" y="165" width="3" height="5" fill="#000"/>
<rect x="276" y="165" width="18" height="3" fill="#000"/>
<rect x="291" y="162" width="3" height="6" fill="#000"/>
<rect x="291" y="162" width="19" height="3" fill="#000"/>
<rect x="307" y="160" width="3" height="5" fill="#000"/>
<rect x="307" y="160" width="15" height="3" fill="#000"/>
<rect x="319" y="157" width="3" height="6" fill="#000"/>
<rect x="319" y="157" width="24" height="3" fill="#000"/>
<rect x="340" y="156" width="3" height="4" fill="#000"/>
<rect x="340" y="156" width="23" height="3" fill="#000"/>
<rect x="360" y="155" width="3" height="4" fill="#000"/>
<rect x="360" y="155" width="3" height="3" fill="#000"/>
<rect x="361" y="155" width="56" height="3" fill="#000"/>
<rect x="417" y="156" width="13" height="3" fill="#000"/>
<rect x="430" y="157" width="10" height="3" fill="#000"/>
<rect x="440" y="158" width="8" height="3" fill="#000"/>
<rect x="448" y="159" width="6" height="3" fill="#000"/>
<rect x="454" y="160" width="7" height="3" fill="#000"/>
<rect x="461" y="161" width="5" height="3" fill="#000"/>
<rect x="466" y="162" width="5" height="3" fill="#000"/>
<rect x="471" y="163" width="3" height="3" fill="#000"/>
<rect x="474" y="164" width="4" height="3" fill="#000"/>
<rect x="478" y="165" width="3" height="3" fill="#000"/>
<rect x="481" y="166" width="3" height="3" fill="#000"/>
<rect x="484" y="167" width="5" height="3" fill="#000"/>
<rect x="489" y="168" width="5" height="3" fill="#000"/>
<rect x="494" y="169" width="6" height="3" fill="#000"/>
<rect x="500" y="170" width="5" height="3" fill="#000"/>
<rect x="505" y="171" width="2" height="3" fill="#000"/>
<rect x="507" y="172" width="3" height="3" fill="#000"/>
<rect x="510" y="173" width="2" height="3" fill="#000"/>
<rect x="512" y="174" width="3" height="3" fill="#000"/>
<rect x="515" y="175" width="3" height="3" fill="#000"/>
<rect x="518" y="176" width="5" height="3" fill="#000"/>
<rect x="523" y="177" width="8" height="3" fill="#000"/>
<rect x="531" y="178" width="9" height="3" fill="#000"/>
<rect x="540" y="179" width="9" height="3" fill="#000"/>
<rect x="549" y="180" width="8" height="3" fill="#000"/>
<rect x="557" y="181" width="10" height="3" fill="#000"/>
<rect x="567" y="182" width="12" height="3" fill="#000"/>
<rect x="579" y="183" width="10" height="3" fill="#000"/>
<rect x="589" y="184" width="7" height="3" fill="#000"/>
<rect x="596" y="185" width="8" height="3" fill="#000"/>
<rect x="604" y="186" width="9" height="3" fill="#000"/>
<rect x="613" y="187" width="7" height="3" fill="#000"/>
<rect x="620" y="188" width="7" height="3" fill="#000"/>
<rect x="627" y="189" width="7" height="3" fill="#000"/>
<rect x="634" y="190" width="7" height="3" fill="#000"/>
<rect x="641" y="191" width="5" height="3" fill="#000"/>
<rect x="646" y="192" width="5" height="3" fill="#000"/>
<rect x="651" y="193" width="4" height="3" fill="#000"/>
<rect x="655" y="194" width="4" height="3" fill="#000"/>
<rect x="659" y="195" width="4" height="3" fill="#000"/>
<rect x="663" y="196" width="4" height="3" fill="#000"/>
<rect x="667" y="197" width="3" height="3" fill="#000"/>
<rect x="670" y="198" width="3" height="3" fill="#000"/>
<rect x="673" y="199" width="4" height="3" fill="#000"/>
<rect x="677" y="200" width="3" height="3" fill="#000"/>
<rect x="680" y="201" width="3" height="3" fill="#000"/>
<rect x="683" y="202" width="2" height="3" fill="#000"/>
<rect x="685" y="203" width="13" height="3" fill="#000"/>
<rect x="695" y="203" width="3" height="7" fill="#000"/>
<rect x="695" y="207" width="13" height="3" fill="#000"/>
<rect x="705" y="207" width="3" height="7" fill="#000"/>
<rect x="705" y="211" width="18" height="3" fill="#000"/>
<rect x="720" y="211" width="3" height="8" fill="#000"/>
<rect x="720" y="216" width="12" height="3" fill="#000"/>
<rect x="729" y="216" width="3" height="12" fill="#000"/>
<rect x="729" y="225" width="28" height="3" fill="#000"/>
</g>
<g id="over">
<rect x="149" y="499" width="608" height="3" fill="#00ff00"/>
</g>
<g id="labels" opacity="0.999" shape-rendering="auto" text-rendering="geometricPrecision" style="font-kerning:none" stroke="#fff" stroke-width="0.45" vector-effect="non-scaling-stroke">
<g transform="translate(278.90917968750006,23.8) scale(1.0,1.069)">
<text transform="translate(0.00,0.00) scale(1.0,1)" font-size="20.4" xml:space="preserve" vector-effect="non-scaling-stroke" stroke-width="0.2">Swift</text>
</g>
<g transform="translate(323.2158203125,23.8) scale(1.0,1.069)">
<rect x="0.82" y="-5.00" width="10.51" height="1.22" stroke="none"/>
</g>
<g transform="translate(335.82910156250006,23.8) scale(1.0,1.069)">
<text transform="translate(0.00,0.00) scale(1.0,1)" font-size="20.4" xml:space="preserve" vector-effect="non-scaling-stroke" stroke-width="0.2">XRT</text>
</g>
<g transform="translate(381.99687500000005,23.8) scale(1.0,1.069)">
<text transform="translate(0.00,0.00) scale(1.0,1)" font-size="20.4" xml:space="preserve" vector-effect="non-scaling-stroke" stroke-width="0.2">spectrum</text>
</g>
<g transform="translate(471.25566406250005,23.8) scale(1.0,1.069)">
<text transform="translate(0.00,0.00) scale(1.0,1)" font-size="20.4" xml:space="preserve" vector-effect="non-scaling-stroke" stroke-width="0.2">of</text>
</g>
<g transform="translate(492.93671875000007,23.8) scale(1.0,1.069)">
<text transform="translate(0.00,0.00) scale(1.0,1)" font-size="20.4" xml:space="preserve" vector-effect="non-scaling-stroke" stroke-width="0.2">GRB</text>
</g>
<g transform="translate(542.1111328125,23.8) scale(1.0,1.069)">
<text transform="translate(0.00,0.00) scale(1.0,1)" font-size="20.4" xml:space="preserve" vector-effect="non-scaling-stroke" stroke-width="0.2">05</text>
<path transform="translate(22.69,0.00) scale(0.00996,-0.00996)" d="M515 0V1003H225V1130Q420 1135 490 1230Q540 1300 560 1409H696V0Z" vector-effect="non-scaling-stroke" stroke-width="0.2"/>
<text transform="translate(34.04,0.00) scale(1.0,1)" font-size="20.4" xml:space="preserve" vector-effect="non-scaling-stroke" stroke-width="0.2">0</text>
<path transform="translate(45.38,0.00) scale(0.00996,-0.00996)" d="M515 0V1003H225V1130Q420 1135 490 1230Q540 1300 560 1409H696V0Z" vector-effect="non-scaling-stroke" stroke-width="0.2"/>
<text transform="translate(56.73,0.00) scale(1.0,1)" font-size="20.4" xml:space="preserve" vector-effect="non-scaling-stroke" stroke-width="0.2">6B</text>
</g>
<g transform="translate(151.6,46.8) scale(0.994,1.069)">
<text transform="translate(0.00,0.00) scale(1.0,1)" font-size="20.4" xml:space="preserve" vector-effect="non-scaling-stroke" stroke-width="0.2">Blue: WT, Red: PC</text>
</g>
<g transform="translate(138.1,64.8) scale(1.0,1.069)">
<path transform="translate(-22.69,0.00) scale(0.00996,-0.00996)" d="M515 0V1003H225V1130Q420 1135 490 1230Q540 1300 560 1409H696V0Z" vector-effect="non-scaling-stroke" stroke-width="0.2"/>
<text transform="translate(-11.35,0.00) scale(1.0,1)" font-size="20.4" xml:space="preserve" vector-effect="non-scaling-stroke" stroke-width="0.2">0</text>
</g>
<g transform="translate(138.1,99.8) scale(1.0,1.069)">
<path transform="translate(-11.35,0.00) scale(0.00996,-0.00996)" d="M515 0V1003H225V1130Q420 1135 490 1230Q540 1300 560 1409H696V0Z" vector-effect="non-scaling-stroke" stroke-width="0.2"/>
</g>
<g transform="translate(138.1,134.8) scale(1.0,1.069)">
<text transform="translate(-28.36,0.00) scale(1.0,1)" font-size="20.4" xml:space="preserve" vector-effect="non-scaling-stroke" stroke-width="0.2">0.</text>
<path transform="translate(-11.35,0.00) scale(0.00996,-0.00996)" d="M515 0V1003H225V1130Q420 1135 490 1230Q540 1300 560 1409H696V0Z" vector-effect="non-scaling-stroke" stroke-width="0.2"/>
</g>
<g transform="translate(138.1,169.8) scale(1.0,1.069)">
<text transform="translate(-39.70,0.00) scale(1.0,1)" font-size="20.4" xml:space="preserve" vector-effect="non-scaling-stroke" stroke-width="0.2">0.0</text>
<path transform="translate(-11.35,0.00) scale(0.00996,-0.00996)" d="M515 0V1003H225V1130Q420 1135 490 1230Q540 1300 560 1409H696V0Z" vector-effect="non-scaling-stroke" stroke-width="0.2"/>
</g>
<g transform="translate(137.4,204.8) scale(1.0,1.069)">
<path transform="translate(-35.57,0.00) scale(0.00996,-0.00996)" d="M515 0V1003H225V1130Q420 1135 490 1230Q540 1300 560 1409H696V0Z" vector-effect="non-scaling-stroke" stroke-width="0.2"/>
<text transform="translate(-24.23,0.00) scale(1.0,1)" font-size="20.4" xml:space="preserve" vector-effect="non-scaling-stroke" stroke-width="0.2">0</text>
<rect x="-12.88" y="-8.34" width="7.44" height="0.78" stroke="none"/>
<text transform="translate(-5.87,-5.40) scale(0.88,1)" font-size="12.0" xml:space="preserve" vector-effect="non-scaling-stroke" stroke-width="0.08">3</text>
</g>
<g transform="translate(137.4,239.8) scale(1.0,1.069)">
<path transform="translate(-35.57,0.00) scale(0.00996,-0.00996)" d="M515 0V1003H225V1130Q420 1135 490 1230Q540 1300 560 1409H696V0Z" vector-effect="non-scaling-stroke" stroke-width="0.2"/>
<text transform="translate(-24.23,0.00) scale(1.0,1)" font-size="20.4" xml:space="preserve" vector-effect="non-scaling-stroke" stroke-width="0.2">0</text>
<rect x="-12.88" y="-8.34" width="7.44" height="0.78" stroke="none"/>
<text transform="translate(-5.87,-5.40) scale(0.88,1)" font-size="12.0" xml:space="preserve" vector-effect="non-scaling-stroke" stroke-width="0.08">4</text>
</g>
<g transform="translate(137.4,274.8) scale(1.0,1.069)">
<path transform="translate(-35.57,0.00) scale(0.00996,-0.00996)" d="M515 0V1003H225V1130Q420 1135 490 1230Q540 1300 560 1409H696V0Z" vector-effect="non-scaling-stroke" stroke-width="0.2"/>
<text transform="translate(-24.23,0.00) scale(1.0,1)" font-size="20.4" xml:space="preserve" vector-effect="non-scaling-stroke" stroke-width="0.2">0</text>
<rect x="-12.88" y="-8.34" width="7.44" height="0.78" stroke="none"/>
<text transform="translate(-5.87,-5.40) scale(0.88,1)" font-size="12.0" xml:space="preserve" vector-effect="non-scaling-stroke" stroke-width="0.08">5</text>
</g>
<g transform="translate(137.4,309.8) scale(1.0,1.069)">
<path transform="translate(-35.57,0.00) scale(0.00996,-0.00996)" d="M515 0V1003H225V1130Q420 1135 490 1230Q540 1300 560 1409H696V0Z" vector-effect="non-scaling-stroke" stroke-width="0.2"/>
<text transform="translate(-24.23,0.00) scale(1.0,1)" font-size="20.4" xml:space="preserve" vector-effect="non-scaling-stroke" stroke-width="0.2">0</text>
<rect x="-12.88" y="-8.34" width="7.44" height="0.78" stroke="none"/>
<text transform="translate(-5.87,-5.40) scale(0.88,1)" font-size="12.0" xml:space="preserve" vector-effect="non-scaling-stroke" stroke-width="0.08">6</text>
</g>
<g transform="translate(138.1,365) scale(1.0,1.069)">
<path transform="translate(-34.04,0.00) scale(0.00996,-0.00996)" d="M515 0V1003H225V1130Q420 1135 490 1230Q540 1300 560 1409H696V0Z" vector-effect="non-scaling-stroke" stroke-width="0.2"/>
<text transform="translate(-22.69,0.00) scale(1.0,1)" font-size="20.4" xml:space="preserve" vector-effect="non-scaling-stroke" stroke-width="0.2">00</text>
</g>
<g transform="translate(138.1,436.1) scale(1.0,1.069)">
<text transform="translate(-22.69,0.00) scale(1.0,1)" font-size="20.4" xml:space="preserve" vector-effect="non-scaling-stroke" stroke-width="0.2">50</text>
</g>
<g transform="translate(138.1,507.8) scale(1.0,1.069)">
<text transform="translate(-11.35,0.00) scale(1.0,1)" font-size="20.4" xml:space="preserve" vector-effect="non-scaling-stroke" stroke-width="0.2">0</text>
</g>
<g transform="translate(243.5,527) scale(1.0,1.069)">
<text transform="translate(-14.18,0.00) scale(1.0,1)" font-size="20.4" xml:space="preserve" vector-effect="non-scaling-stroke" stroke-width="0.2">0.5</text>
</g>
<g transform="translate(369.8,527) scale(1.0,1.069)">
<path transform="translate(-5.67,0.00) scale(0.00996,-0.00996)" d="M515 0V1003H225V1130Q420 1135 490 1230Q540 1300 560 1409H696V0Z" vector-effect="non-scaling-stroke" stroke-width="0.2"/>
</g>
<g transform="translate(496.3,527) scale(1.0,1.069)">
<text transform="translate(-5.67,0.00) scale(1.0,1)" font-size="20.4" xml:space="preserve" vector-effect="non-scaling-stroke" stroke-width="0.2">2</text>
</g>
<g transform="translate(663.5,527) scale(1.0,1.069)">
<text transform="translate(-5.67,0.00) scale(1.0,1)" font-size="20.4" xml:space="preserve" vector-effect="non-scaling-stroke" stroke-width="0.2">5</text>
</g>
<g transform="translate(454.8,550.7) scale(1.0,1.069)">
<text transform="translate(-59.52,0.00) scale(1.0,1)" font-size="20.4" xml:space="preserve" vector-effect="non-scaling-stroke" stroke-width="0.2">Energy (keV)</text>
</g>
<g transform="translate(52.3,196.5) rotate(-90) scale(1.0,1.069)">
<text transform="translate(-71.28,0.00) scale(1.0,1)" font-size="20.4" xml:space="preserve" vector-effect="non-scaling-stroke" stroke-width="0.2">counts s</text>
<rect x="4.70" y="-8.34" width="7.44" height="0.78" stroke="none"/>
<path transform="translate(11.70,-5.40) scale(0.00516,-0.00586)" d="M515 0V1003H225V1130Q420 1135 490 1230Q540 1300 560 1409H696V0Z" vector-effect="non-scaling-stroke" stroke-width="0.08"/>
<text transform="translate(17.58,0.00) scale(1.0,1)" font-size="20.4" xml:space="preserve" vector-effect="non-scaling-stroke" stroke-width="0.2"> keV</text>
<rect x="58.40" y="-8.34" width="7.44" height="0.78" stroke="none"/>
<path transform="translate(65.40,-5.40) scale(0.00516,-0.00586)" d="M515 0V1003H225V1130Q420 1135 490 1230Q540 1300 560 1409H696V0Z" vector-effect="non-scaling-stroke" stroke-width="0.08"/>
</g>
<g transform="translate(52.3,422.6) rotate(-90) scale(1.0,1.069)">
<text transform="translate(-19.84,0.00) scale(1.0,1)" font-size="20.4" xml:space="preserve" vector-effect="non-scaling-stroke" stroke-width="0.2">ratio</text>
</g>
</g>
</svg></body></html>
